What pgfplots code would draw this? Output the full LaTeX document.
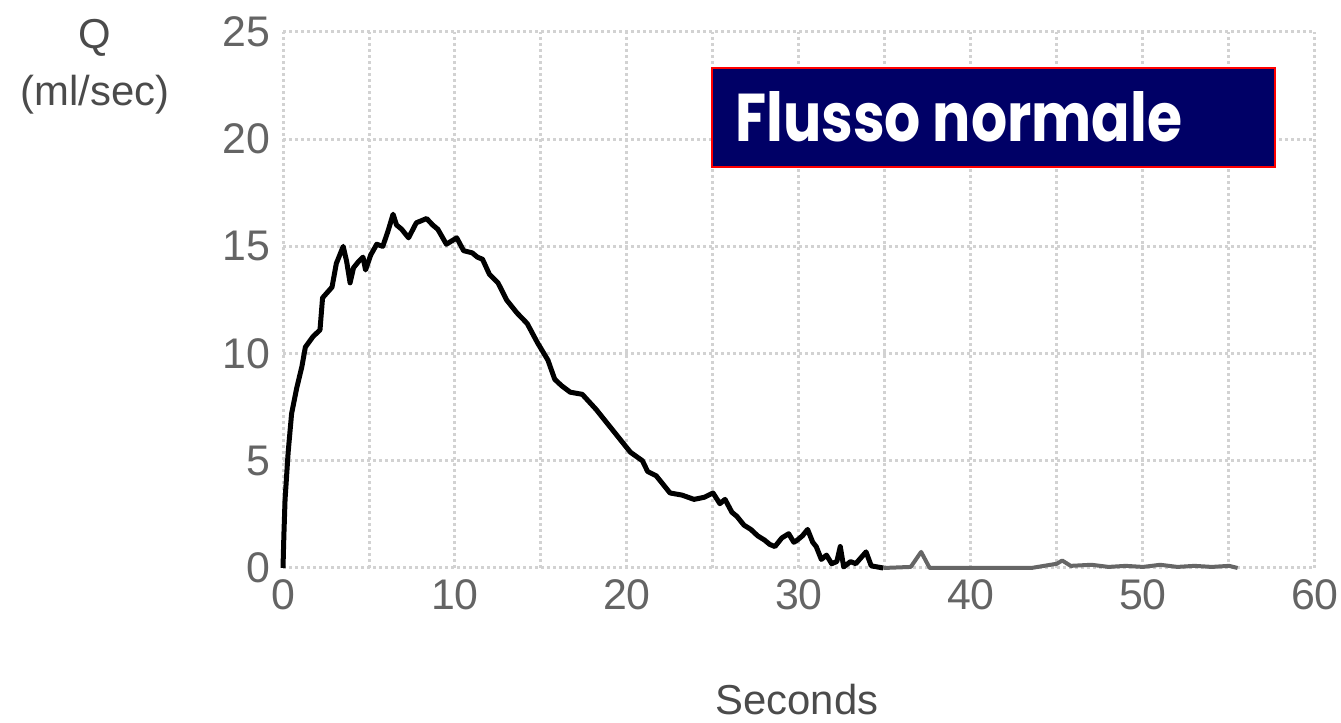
\documentclass[border=0pt]{standalone}
\usepackage{fontspec}
\setmainfont{Liberation Sans}
\newfontfamily\boxfont{Poppins}
\usepackage{graphicx}
\usepackage{pgfplots}
\pgfplotsset{compat=1.18}
\definecolor{tickgray}{RGB}{100,100,100}
\definecolor{labgray}{RGB}{75,75,75}
\definecolor{gridgray}{RGB}{210,210,210}
\definecolor{boxnavy}{RGB}{0,0,102}

\begin{document}
\begin{tikzpicture}
\useasboundingbox (0,0) rectangle (1341bp,723bp);
\begin{axis}[at={(283bp,155bp)}, anchor=south west, scale only axis,
             width=1032bp, height=536bp, clip=false,
             xmin=0, xmax=60, ymin=0, ymax=25,
             xtick={0,10,...,60}, minor xtick={5,15,...,55}, ytick={0,5,...,25},
             grid=both,
             major grid style={gridgray, line width=3bp, dash pattern=on 3bp off 3bp},
             minor grid style={gridgray, line width=3bp, dash pattern=on 3bp off 3bp},
             axis line style={draw=none}, major tick length=0, minor tick length=0,
             /pgf/number format/assume math mode=true,
             tick label style={font=\fontsize{43}{48}\selectfont, text=tickgray},
             xticklabel style={yshift=-8bp}, yticklabel style={xshift=-9bp}]
% parte principale della curva
\addplot[black, line width=5bp, line join=round] coordinates {
(0,0) (0.05,1.5) (0.12,3.2) (0.3,5.4) (0.5,7.2) (0.8,8.4) (1.1,9.4) (1.3,10.3)
(1.75,10.8) (2.15,11.1) (2.3,12.6) (2.85,13.1) (3.1,14.2) (3.5,15.0) (3.7,14.3)
(3.9,13.3) (4.1,14.0) (4.4,14.3) (4.65,14.5) (4.8,13.9) (5.1,14.6) (5.45,15.1)
(5.8,15.0) (6.1,15.7) (6.4,16.5) (6.6,16.0) (6.9,15.8) (7.3,15.4) (7.75,16.1)
(8.35,16.3) (8.7,16.0) (9.0,15.8) (9.5,15.1) (10.1,15.4) (10.5,14.8) (11.0,14.7)
(11.3,14.5) (11.6,14.4) (12.0,13.7) (12.5,13.3) (13.0,12.5) (13.6,11.9) (14.2,11.4)
(14.8,10.5) (15.4,9.7) (15.8,8.8) (16.2,8.5) (16.7,8.2) (17.4,8.1) (18.2,7.4)
(19.0,6.6) (19.6,6.0) (20.2,5.4) (20.9,5.0) (21.2,4.5) (21.7,4.3) (22.5,3.5)
(23.2,3.4) (23.9,3.2) (24.5,3.3) (25.0,3.5) (25.4,3.0) (25.7,3.2) (26.1,2.6)
(26.4,2.4) (26.8,2.0) (27.2,1.8) (27.6,1.5) (28.0,1.3) (28.3,1.1) (28.6,1.0)
(29.0,1.4) (29.4,1.6) (29.7,1.2) (29.9,1.3) (30.2,1.5) (30.5,1.8) (30.8,1.2)
(31.0,1.0) (31.3,0.4) (31.6,0.6) (31.9,0.2) (32.2,0.3) (32.4,1.0) (32.6,0.05)
(33.0,0.3) (33.3,0.2) (33.9,0.75) (34.2,0.1) (34.9,0.0)};
% coda quasi piatta
\addplot[black!60, line width=4bp, line join=round] coordinates {
(34.9,0.0) (36.5,0.05) (37.1,0.75) (37.6,0.0) (43.5,0.0) (45.0,0.2) (45.3,0.35)
(45.8,0.1) (47,0.15) (48,0.05) (49,0.1) (50,0.05) (51,0.15) (52,0.05) (53,0.1)
(54,0.05) (55,0.1) (55.5,0.0)};
\end{axis}
\node[font=\fontsize{42}{48}\selectfont, text=labgray] at (95bp,685bp) {Q};
\node[font=\fontsize{42}{48}\selectfont, text=labgray] at (95bp,628bp) {(ml/sec)};
\node[font=\fontsize{42}{48}\selectfont, text=labgray] at (797bp,23bp) {Seconds};
\draw[red, line width=2.5bp, fill=boxnavy] (712bp,556bp) rectangle (1275bp,655bp);
\node[anchor=base west, inner sep=0pt, text=white] at (735bp,581bp)
     {\resizebox{447bp}{50bp}{\boxfont\bfseries Flusso normale}};
\end{tikzpicture}
\end{document}
